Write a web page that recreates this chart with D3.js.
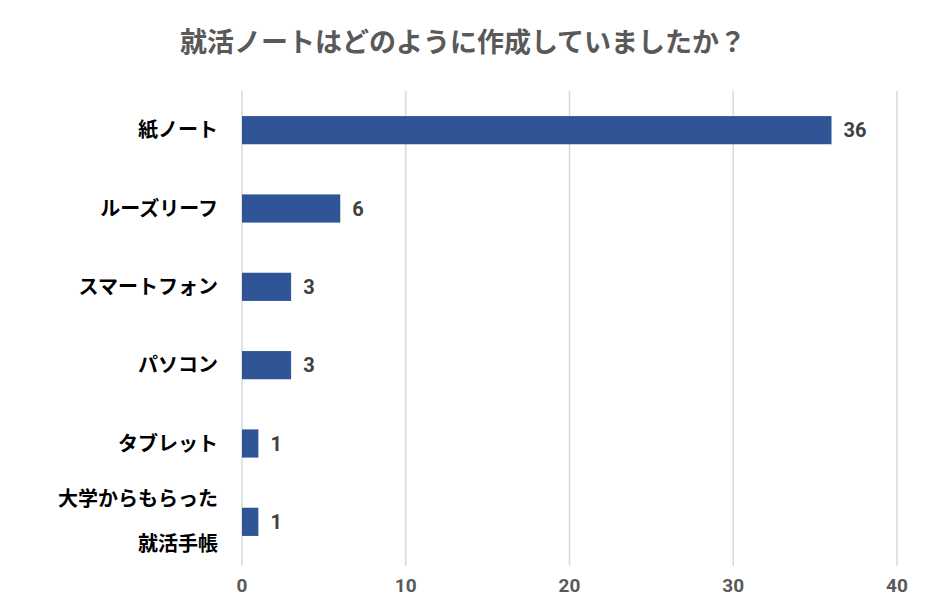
<!DOCTYPE html>
<html><head><meta charset="utf-8">
<script src="https://cdn.jsdelivr.net/npm/d3@7"></script>
<style>body{margin:0;background:#fff;font-family:"Noto Sans CJK JP",Roboto,sans-serif;}</style>
</head><body>
<svg id="chart" width="927" height="610"></svg>
<script>
const categories = ["紙ノート", "ルーズリーフ", "スマートフォン", "パソコン", "タブレット", "大学からもらった\n就活手帳"];
const counts = [36, 6, 3, 3, 1, 1];
const ticks = [0, 10, 20, 30, 40];

const svg = d3.select("#chart");
const x = d3.scaleLinear().domain([0, 40]).range([242, 897]);
const y = d3.scaleBand().domain(categories).range([91, 561]).paddingInner(0.64).paddingOuter(0.32);

svg.append("text").attr("x", 463).attr("y", 52).attr("text-anchor", "middle")
  .attr("font-size", 27).attr("font-weight", "bold").attr("fill", "#595959")
  .text("就活ノートはどのように作成していましたか？");

// grid
svg.selectAll(".grid").data(ticks).enter().append("line")
  .attr("x1", d => x(d)).attr("x2", d => x(d)).attr("y1", 91).attr("y2", 566)
  .attr("stroke", "#d9d9d9").attr("stroke-width", 1.5);

svg.selectAll(".tick").data(ticks).enter().append("text")
  .attr("x", d => x(d)).attr("y", 592).attr("text-anchor", "middle")
  .attr("font-family", "Roboto, sans-serif").attr("font-weight", "bold")
  .attr("font-size", 19).attr("fill", "#595959").text(d => d);

svg.selectAll(".bar").data(categories).enter().append("rect")
  .attr("x", x(0)).attr("y", d => y(d)).attr("height", y.bandwidth())
  .attr("width", (d, i) => x(counts[i]) - x(0)).attr("fill", "#2F5597");

svg.selectAll(".val").data(categories).enter().append("text")
  .attr("x", (d, i) => x(counts[i]) + 12).attr("y", d => y(d) + y.bandwidth() / 2 + 7)
  .attr("font-family", "Roboto, sans-serif").attr("font-weight", "bold")
  .attr("font-size", 20).attr("fill", "#404040").text((d, i) => counts[i]);

svg.selectAll(".cat").data(categories).enter().append("text")
  .attr("text-anchor", "end").attr("font-size", 20).attr("font-weight", "bold").attr("fill", "#000")
  .each(function(d) {
    const lines = d.split("\n");
    const cy = y(d) + y.bandwidth() / 2;
    const t = d3.select(this);
    lines.forEach((l, i) => {
      t.append("tspan").attr("x", 218)
        .attr("y", cy + 7 + (i - (lines.length - 1) / 2) * 45).text(l);
    });
  });
</script>
</body></html>
